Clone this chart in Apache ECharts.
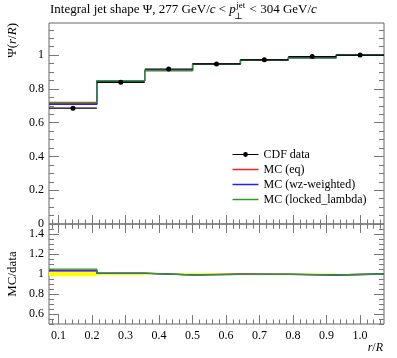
<!DOCTYPE html>
<html>
<head>
<meta charset="utf-8">
<script src="https://cdn.jsdelivr.net/npm/echarts@6/dist/echarts.min.js"></script>
<style>
html,body{margin:0;padding:0;background:#fff;}
#c{width:397px;height:358px;}
</style>
</head>
<body>
<div id="c"></div>
<script>
// ---- data ----
const binEdges   = [0.0714, 0.2143, 0.3571, 0.5, 0.6429, 0.7857, 0.9286, 1.0714];
const binCenters = [0.1429, 0.2857, 0.4286, 0.5714, 0.7143, 0.8571, 1.0];
const cdfData    = [0.686, 0.839, 0.917, 0.948, 0.972, 0.991, 1.0];
const mcEq       = [0.712, 0.847, 0.908, 0.947, 0.972, 0.985, 1.0];
const mcWz       = [0.708, 0.846, 0.908, 0.946, 0.972, 0.984, 1.0];
const mcLocked   = [0.720, 0.848, 0.909, 0.946, 0.971, 0.984, 1.0];
const ratioEq     = [1.035, 1.008, 0.992, 1.000, 0.998, 0.990, 1.0];
const ratioWz     = [1.032, 1.007, 0.991, 0.997, 0.997, 0.990, 1.0];
const ratioLocked = [1.048, 1.009, 0.990, 0.996, 0.997, 0.991, 1.0];
const dataRelErr  = [0.023, 0.010, 0.008, 0.008, 0.006, 0.004, 0.002];
const xTicks      = [0.1, 0.2, 0.3, 0.4, 0.5, 0.6, 0.7, 0.8, 0.9, 1.0];
const yMainTicks  = [0, 0.2, 0.4, 0.6, 0.8, 1];
const yRatioTicks = [0.6, 0.8, 1, 1.2, 1.4];
const seriesNames = ['CDF data', 'MC (eq)', 'MC (wz-weighted)', 'MC (locked_lambda)'];

// ---- layout / style ----
const FONT = '"Liberation Serif", "DejaVu Serif", serif';
const FS = 12;
const TFS = 13;
const tickColor = '#777';
const colors = { eq: '#ee2222', wz: '#2222ff', locked: '#2a9a2a' };
const xMin = 0.0714, xMax = 1.0714;
const lineIcon = 'path://M0,0L0.01,0L0.01,0.01ZM0,6L0.01,6L0.01,5.99ZM0,2.2L26,2.2L26,3.8L0,3.8Z';

function minorList(a, b, step) {
  const out = [];
  for (let k = Math.ceil(a / step - 1e-9); k * step <= b + 1e-9; k++) out.push(+(k * step).toFixed(4));
  return out;
}
const xMinor = minorList(xMin, xMax, 0.02);
const yMainMinor = minorList(0, 1.19, 0.05);
const yRatioMinor = minorList(0.5, 1.5, 0.05);

function xAxes(g, labels) {
  const base = { gridIndex: g, type: 'value', min: xMin, max: xMax,
    axisLine: { show: false }, splitLine: { show: false } };
  const lbl = { show: labels, customValues: xTicks, formatter: v => v.toFixed(1),
    fontFamily: FONT, fontSize: FS, color: '#000', margin: 6 };
  return [
    Object.assign({}, base, { position: 'bottom', axisTick: { inside: true, length: 9, customValues: xTicks, lineStyle: { color: tickColor } }, axisLabel: lbl }),
    Object.assign({}, base, { position: 'top', axisTick: { inside: true, length: 9, customValues: xTicks, lineStyle: { color: tickColor } }, axisLabel: { show: false } }),
    Object.assign({}, base, { position: 'bottom', axisTick: { inside: true, length: 4.5, customValues: xMinor, lineStyle: { color: tickColor } }, axisLabel: { show: false } }),
    Object.assign({}, base, { position: 'top', axisTick: { inside: true, length: 4.5, customValues: xMinor, lineStyle: { color: tickColor } }, axisLabel: { show: false } })
  ];
}
function yAxes(g, min, max, majors, minors) {
  const base = { gridIndex: g, type: 'value', min: min, max: max,
    axisLine: { show: false }, splitLine: { show: false } };
  const lbl = { show: true, customValues: majors, formatter: v => String(+v.toFixed(2)),
    fontFamily: FONT, fontSize: FS, color: '#000', margin: 5 };
  return [
    Object.assign({}, base, { position: 'left', axisTick: { inside: true, length: 10, customValues: majors, lineStyle: { color: tickColor } }, axisLabel: lbl }),
    Object.assign({}, base, { position: 'right', axisTick: { inside: true, length: 10, customValues: majors, lineStyle: { color: tickColor } }, axisLabel: { show: false } }),
    Object.assign({}, base, { position: 'left', axisTick: { inside: true, length: 5, customValues: minors, lineStyle: { color: tickColor } }, axisLabel: { show: false } }),
    Object.assign({}, base, { position: 'right', axisTick: { inside: true, length: 5, customValues: minors, lineStyle: { color: tickColor } }, axisLabel: { show: false } })
  ];
}

function stepData(vals) {
  const d = [];
  vals.forEach((v, i) => { d.push([binEdges[i], v]); d.push([binEdges[i + 1], v]); });
  return d;
}
function barData(vals) {
  const d = [];
  vals.forEach((v, i) => {
    d.push({ value: [binEdges[i], v], symbol: 'none' });
    d.push({ value: [binCenters[i], v] });
    d.push({ value: [binEdges[i + 1], v], symbol: 'none' });
    d.push({ value: [binEdges[i + 1], '-'], symbol: 'none' });
  });
  return d;
}
function mcLine(name, vals, color, xi, yi, z) {
  return { name: name, type: 'line', xAxisIndex: xi, yAxisIndex: yi, data: stepData(vals),
    symbol: 'none', lineStyle: { color: color, width: 1.3 }, itemStyle: { color: color },
    z: z, silent: true, animation: false };
}
function legendLine(name, color) {
  return { name: name, icon: lineIcon,
    itemStyle: { color: color, borderWidth: 0, opacity: 1 },
    lineStyle: { color: color, width: 0 } };
}

// ---- title text measurement (layout only) ----
const mctx = document.createElement('canvas').getContext('2d');
function tw(txt, size, italic) {
  mctx.font = (italic ? 'italic ' : '') + size + 'px ' + FONT;
  return mctx.measureText(txt).width;
}
const tX = 50;
const partA = ['Integral jet shape Ψ, 277 GeV/', 'c', ' < ', 'p'];
const aW = tw(partA[0], TFS) + tw(partA[1], TFS, true) + tw(partA[2], TFS) + tw(partA[3], TFS, true);
const supW = tw('jet', 9);
const richT = {
  n: { fontFamily: FONT, fontSize: TFS, color: '#000' },
  i: { fontFamily: FONT, fontSize: TFS, fontStyle: 'italic', color: '#000' }
};
const richStyles = {
  n: { fontFamily: FONT, fontSize: FS, color: '#000' },
  i: { fontFamily: FONT, fontSize: FS, fontStyle: 'italic', color: '#000' }
};

const chart = echarts.init(document.getElementById('c'), null, { renderer: 'canvas' });
const option = {
  animation: false,
  grid: [
    { left: 49, top: 23, width: 335, height: 201, show: true, borderColor: '#666', borderWidth: 1, backgroundColor: 'transparent' },
    { left: 49, top: 224, width: 335, height: 100, show: true, borderColor: '#666', borderWidth: 1, backgroundColor: 'transparent' }
  ],
  xAxis: xAxes(0, false).concat(xAxes(1, true)),
  yAxis: yAxes(0, 0, 1.19, yMainTicks, yMainMinor).concat(yAxes(1, 0.5, 1.5, yRatioTicks, yRatioMinor)),
  legend: {
    data: [
      { name: seriesNames[0], lineStyle: { width: 1, color: '#000' }, itemStyle: { color: '#000' } },
      legendLine(seriesNames[1], colors.eq),
      legendLine(seriesNames[2], colors.wz),
      legendLine(seriesNames[3], colors.locked)
    ],
    orient: 'vertical', left: 227, top: 142,
    itemWidth: 26, itemHeight: 6, itemGap: 0, selectedMode: false,
    textStyle: { fontFamily: FONT, fontSize: FS, color: '#000', lineHeight: 15 }
  },
  graphic: [
    { type: 'text', left: tX, top: 3, style: { rich: richT,
      text: '{n|' + partA[0] + '}{i|' + partA[1] + '}{n|' + partA[2] + '}{i|' + partA[3] + '}' } },
    { type: 'text', x: tX + aW + 0.5, y: 1, style: { text: 'jet', fontFamily: FONT, fontSize: 9, fill: '#000' } },
    { type: 'text', x: tX + aW - 1.5, y: 12.5, style: { text: '⊥', fontFamily: FONT, fontSize: 9, fill: '#000' } },
    { type: 'text', left: tX + aW + supW + 1.5, top: 3, style: { rich: richT,
      text: '{n| < 304 GeV/}{i|c}' } },
    { type: 'text', x: 13, y: 23, rotation: Math.PI / 2, style: { rich: richT,
      text: '{n|Ψ(}{i|r}{n|/}{i|R}{n|)}', align: 'right', verticalAlign: 'middle' } },
    { type: 'text', x: 13, y: 274, rotation: Math.PI / 2, style: { text: 'MC/data', fontFamily: FONT, fontSize: 13, fill: '#000',
      align: 'center', verticalAlign: 'middle' } },
    { type: 'text', right: 14, top: 342, style: { rich: richStyles, text: '{i|r}{n|/}{i|R}' } }
  ],
  series: [
    mcLine('MC (eq)', mcEq, colors.eq, 0, 0, 3),
    mcLine('MC (wz-weighted)', mcWz, colors.wz, 0, 0, 4),
    mcLine('MC (locked_lambda)', mcLocked, colors.locked, 0, 0, 5),
    { name: 'CDF data', type: 'line', xAxisIndex: 0, yAxisIndex: 0, data: barData(cdfData),
      symbol: 'circle', symbolSize: 5, showSymbol: true, connectNulls: false,
      lineStyle: { color: '#000', width: 1.2 }, itemStyle: { color: '#000' }, z: 6, silent: true },
    { name: 'data band', type: 'custom', xAxisIndex: 4, yAxisIndex: 4, silent: true, z: 2,
      data: dataRelErr.map((e, i) => [binEdges[i], binEdges[i + 1], 1 - e, 1 + e]),
      encode: { x: [0, 1], y: [2, 3] },
      renderItem: function (params, api) {
        const p1 = api.coord([api.value(0), api.value(3)]);
        const p2 = api.coord([api.value(1), api.value(2)]);
        return { type: 'rect', shape: { x: p1[0], y: p1[1], width: p2[0] - p1[0], height: p2[1] - p1[1] },
          style: { fill: '#ffff00' } };
      } },
    mcLine('MC (eq)', ratioEq, colors.eq, 4, 4, 3),
    mcLine('MC (wz-weighted)', ratioWz, colors.wz, 4, 4, 4),
    mcLine('MC (locked_lambda)', ratioLocked, colors.locked, 4, 4, 5)
  ]
};
chart.setOption(option);
</script>
</body>
</html>
